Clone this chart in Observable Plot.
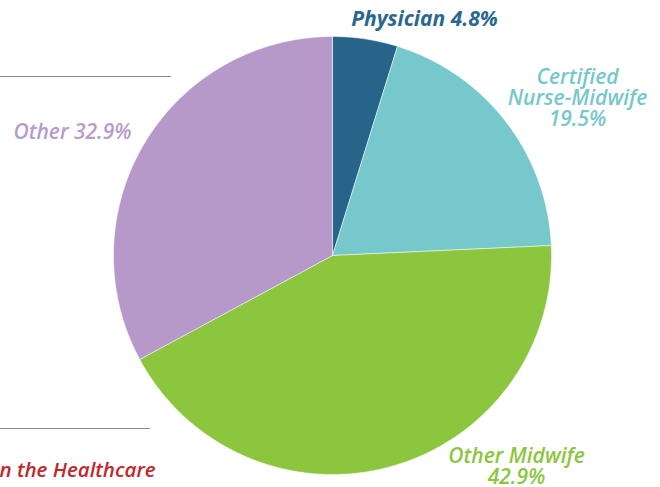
<!DOCTYPE html>
<html>
<head>
<meta charset="utf-8">
<script src="https://cdn.jsdelivr.net/npm/d3@7"></script>
<script src="https://cdn.jsdelivr.net/npm/@observablehq/plot@0.6"></script>
<style>
  html, body { margin: 0; padding: 0; background: #fff; }
  #chart svg { display: block; }
</style>
</head>
<body>
<div id="chart"></div>
<script>
// ---- data ----
const categories = ["Physician", "Certified Nurse-Midwife", "Other Midwife", "Other"];
const shares = [4.8, 19.5, 42.9, 32.9];
const labelLines = [
  ["Physician 4.8%"],
  ["Certified", "Nurse-Midwife", "19.5%"],
  ["Other Midwife", "42.9%"],
  ["Other 32.9%"]
];
const sliceColors = ["#26648a", "#76c8cc", "#8cc63f", "#b699c8"];
const labelColors = ["#2a6890", "#76c8cc", "#8cc63f", "#b89bca"];
const fragmentText = "n the Healthcare";

// ---- layout ----
const W = 660, H = 487;
const cx = 332, cy = 255, R = 219;
const toX = px => (px - cx) / R;
const toY = py => (cy - py) / R;

// slice polygons in unit-circle coordinates (clockwise from 12 o'clock)
const total = d3.sum(shares);
let acc = 0;
const slices = categories.map((c, i) => {
  const a0 = acc / total * 2 * Math.PI;
  acc += shares[i];
  const a1 = acc / total * 2 * Math.PI;
  const n = Math.max(2, Math.ceil((a1 - a0) / (Math.PI / 360)));
  const pts = [{x: 0, y: 0}];
  for (let k = 0; k <= n; k++) {
    const a = a0 + (a1 - a0) * k / n;
    pts.push({x: Math.sin(a), y: Math.cos(a)});
  }
  pts.push({x: 0, y: 0});
  return {category: c, pts, color: sliceColors[i]};
});

// label block centers (pixels) per category
const labelAnchors = [
  {px: 424, py: 19, weight: 700},
  {px: 577, py: 98, weight: 600},
  {px: 516, py: 466.5, weight: 600},
  {px: 72, py: 132, weight: 600}
];
const labelRows = labelLines.map((lines, i) => {
  const a = labelAnchors[i];
  return {x: toX(a.px), y: toY(a.py), text: lines.join("\n"), color: labelColors[i], weight: a.weight};
});

const marks = [];
slices.forEach(s => {
  marks.push(Plot.line(s.pts, {x: "x", y: "y", fill: s.color, stroke: "#ffffff", strokeWidth: 0.5, curve: "linear"}));
});

// decorative rules
marks.push(Plot.ruleY([toY(76)], {x1: toX(0), x2: toX(171), stroke: "#8a8a8a", strokeWidth: 1.2}));
marks.push(Plot.ruleY([toY(428)], {x1: toX(0), x2: toX(150), stroke: "#8a8a8a", strokeWidth: 1.2}));

[700, 600].forEach(w => {
  marks.push(Plot.text(labelRows.filter(d => d.weight === w), {
    x: "x", y: "y", text: "text", fill: "color",
    fontSize: 21, lineHeight: 1.0, fontStyle: "italic", fontWeight: w,
    fontFamily: "'Open Sans', sans-serif", textAnchor: "middle", lineAnchor: "middle"
  }));
});

marks.push(Plot.text([fragmentText], {
  x: toX(-1), y: toY(470), text: d => d, fill: "#c1272d",
  fontSize: 20.5, fontStyle: "italic", fontWeight: 600,
  fontFamily: "'Open Sans', sans-serif", textAnchor: "start", lineAnchor: "middle"
}));

const chart = Plot.plot({
  width: W, height: H,
  margin: 0,
  x: {type: "linear", domain: [-1, 1], range: [cx - R, cx + R], axis: null},
  y: {type: "linear", domain: [-1, 1], range: [cy + R, cy - R], axis: null},
  style: {background: "#fff", overflow: "hidden"},
  marks
});
document.getElementById("chart").appendChild(chart);
</script>
</body>
</html>
